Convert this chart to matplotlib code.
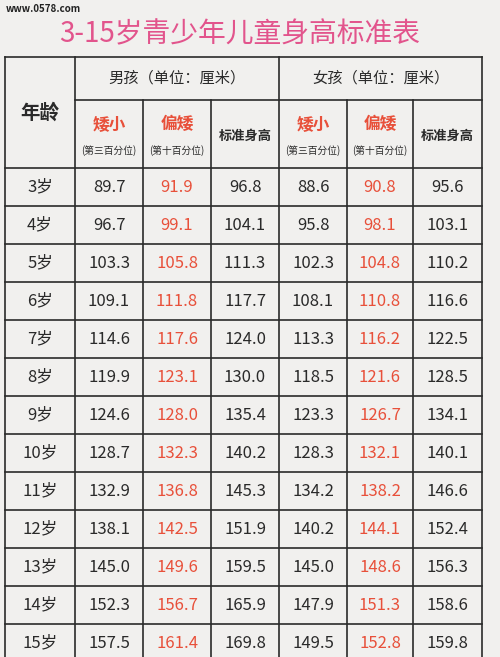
import matplotlib
matplotlib.use("Agg")
import matplotlib.pyplot as plt

plt.rcParams['font.family'] = ['Noto Sans CJK SC', 'DejaVu Sans']

ages = ["3岁", "4岁", "5岁", "6岁", "7岁", "8岁", "9岁", "10岁", "11岁", "12岁", "13岁", "14岁", "15岁"]
boy_short = [89.7, 96.7, 103.3, 109.1, 114.6, 119.9, 124.6, 128.7, 132.9, 138.1, 145.0, 152.3, 157.5]
boy_low = [91.9, 99.1, 105.8, 111.8, 117.6, 123.1, 128.0, 132.3, 136.8, 142.5, 149.6, 156.7, 161.4]
boy_std = [96.8, 104.1, 111.3, 117.7, 124.0, 130.0, 135.4, 140.2, 145.3, 151.9, 159.5, 165.9, 169.8]
girl_short = [88.6, 95.8, 102.3, 108.1, 113.3, 118.5, 123.3, 128.3, 134.2, 140.2, 145.0, 147.9, 149.5]
girl_low = [90.8, 98.1, 104.8, 110.8, 116.2, 121.6, 126.7, 132.1, 138.2, 144.1, 148.6, 151.3, 152.8]
girl_std = [95.6, 103.1, 110.2, 116.6, 122.5, 128.5, 134.1, 140.1, 146.6, 152.4, 156.3, 158.6, 159.8]

RED = "#e8503a"
INK = "#2a2a2a"
xs = [5, 75, 143, 211, 279, 347, 413, 482]
y_top, y_mid, y_head = 57, 100, 168
row_h = 38

fig = plt.figure(figsize=(5, 6.57), dpi=100)
fig.patch.set_facecolor("#f1f0ee")
ax = fig.add_axes([0, 0, 1, 1])
ax.set_xlim(0, 500)
ax.set_ylim(657, 0)
ax.axis("off")

ax.text(6, 9, "www.0578.com", fontsize=7, fontweight="bold", color="#222", va="center")
ax.text(240, 34, "3-15岁青少年儿童身高标准表", fontsize=20, color="#e2548c", ha="center", va="center")

lw = 1.2
y_bot = y_head + row_h * len(ages)
# 外框与竖线
for i, x in enumerate(xs):
    top = y_top if i in (0, 1, 4, 7) else y_mid
    ax.plot([x, x], [top, y_bot], color=INK, lw=lw)
ax.plot([xs[0], xs[-1]], [y_top, y_top], color=INK, lw=lw)
ax.plot([xs[1], xs[-1]], [y_mid, y_mid], color=INK, lw=lw)
for r in range(len(ages) + 1):
    y = y_head + r * row_h
    ax.plot([xs[0], xs[-1]], [y, y], color=INK, lw=lw)

# 表头
ax.text((xs[0] + xs[1]) / 2, (y_top + y_head) / 2, "年龄", fontsize=14, fontweight="bold",
        ha="center", va="center", color=INK)
ax.text((xs[1] + xs[4]) / 2, (y_top + y_mid) / 2, "男孩（单位：厘米）", fontsize=11,
        ha="center", va="center", color=INK)
ax.text((xs[4] + xs[7]) / 2, (y_top + y_mid) / 2, "女孩（单位：厘米）", fontsize=11,
        ha="center", va="center", color=INK)
for g in (0, 3):
    for k, (name, sub) in enumerate([("矮小", "(第三百分位)"), ("偏矮", "(第十百分位)")]):
        cx = (xs[1 + g + k] + xs[2 + g + k]) / 2
        ax.text(cx, 124, name, fontsize=12, fontweight="bold", ha="center", va="center", color=RED)
        ax.text(cx, 151, sub, fontsize=7, ha="center", va="center", color=INK)
    cx = (xs[3 + g] + xs[4 + g]) / 2
    ax.text(cx, 136, "标准身高", fontsize=9.5, fontweight="bold", ha="center", va="center", color=INK)

cols = [boy_short, boy_low, boy_std, girl_short, girl_low, girl_std]
colors = [INK, RED, INK, INK, RED, INK]
for r, age in enumerate(ages):
    cy = y_head + r * row_h + row_h / 2
    ax.text((xs[0] + xs[1]) / 2, cy, age, fontsize=12, ha="center", va="center", color=INK)
    for c, (vals, col) in enumerate(zip(cols, colors)):
        ax.text((xs[1 + c] + xs[2 + c]) / 2, cy, f"{vals[r]:.1f}", fontsize=12,
                ha="center", va="center", color=col)

fig.savefig("out.png", dpi=100, facecolor=fig.get_facecolor())
